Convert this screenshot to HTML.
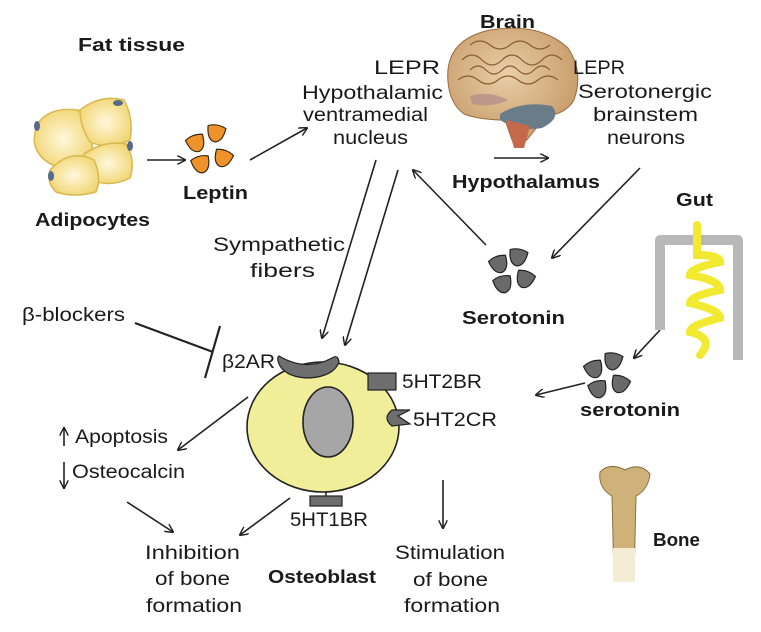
<!DOCTYPE html>
<html><head><meta charset="utf-8"><style>
html,body{margin:0;padding:0;background:#fff}
svg{display:block}
text{font-family:"Liberation Sans",sans-serif;fill:#1a1a1a}
.b{font-weight:bold;font-size:18px}
.n{font-size:19px}
</style></head><body>
<svg width="761" height="632" viewBox="0 0 761 632" xmlns="http://www.w3.org/2000/svg">
<defs>
<marker id="a" viewBox="0 0 10 10" refX="9" refY="5" markerWidth="9" markerHeight="9" orient="auto" markerUnits="userSpaceOnUse"><path d="M0,0 L10,5 L0,10" fill="none" stroke="#222" stroke-width="1.6"/></marker>
<radialGradient id="cell" cx="0.5" cy="0.5" r="0.6"><stop offset="0" stop-color="#fff8dc"/><stop offset="1" stop-color="#f0d36a"/></radialGradient>
<radialGradient id="br" cx="0.45" cy="0.4" r="0.6"><stop offset="0" stop-color="#e8cfa8"/><stop offset="1" stop-color="#c89a68"/></radialGradient>
<path id="tri" d="M-9,-6 Q0,-10 9,-6 Q8,8 0,9 Q-8,8 -9,-6Z"/>
</defs>
<g stroke="#222" stroke-width="1.6" fill="none">
<line x1="147" y1="160" x2="185" y2="160" marker-end="url(#a)"/>
<line x1="250" y1="160" x2="307" y2="128" marker-end="url(#a)"/>
<line x1="494" y1="158" x2="548" y2="158" marker-end="url(#a)"/>
<line x1="486" y1="245" x2="413" y2="170" marker-end="url(#a)"/>
<line x1="640" y1="168" x2="552" y2="258" marker-end="url(#a)"/>
<line x1="660" y1="330" x2="634" y2="358" marker-end="url(#a)"/>
<line x1="585" y1="383" x2="536" y2="395" marker-end="url(#a)"/>
<line x1="376" y1="160" x2="322" y2="338" marker-end="url(#a)"/>
<line x1="398" y1="170" x2="345" y2="345" marker-end="url(#a)"/>
<line x1="248" y1="397" x2="178" y2="450" marker-end="url(#a)"/>
<line x1="127" y1="502" x2="173" y2="532" marker-end="url(#a)"/>
<line x1="290" y1="498" x2="240" y2="535" marker-end="url(#a)"/>
<line x1="443" y1="480" x2="443" y2="528" marker-end="url(#a)"/>
<line x1="135" y1="323" x2="213" y2="352" stroke-width="2.2"/>
<line x1="220" y1="326" x2="205" y2="378" stroke-width="2.2"/>
<line x1="64" y1="428" x2="64" y2="446" marker-end="url(#a)" transform="rotate(180 64 437)"/>
<line x1="64" y1="462" x2="64" y2="488" marker-end="url(#a)"/>
</g>
<!-- adipocytes -->
<g fill="url(#cell)" stroke="#d8b850" stroke-width="1.5">
<path d="M36,126 Q48,106 78,110 Q94,122 92,150 Q82,170 60,168 Q36,160 34,140Z"/>
<path d="M80,110 Q100,94 124,100 Q134,118 130,140 Q108,150 90,142 Q80,126 80,110Z"/>
<path d="M84,154 Q104,140 126,144 Q136,160 130,178 Q110,188 92,180 Q82,168 84,154Z"/>
<path d="M50,170 Q70,148 94,160 Q102,178 96,192 Q74,198 56,192 Q46,182 50,170Z"/>
</g>
<g fill="#556a8c"><ellipse cx="37" cy="126" rx="3" ry="5"/><ellipse cx="118" cy="103" rx="5" ry="3"/><ellipse cx="130" cy="146" rx="3" ry="5"/><ellipse cx="51" cy="176" rx="3" ry="5"/></g>
<!-- leptin -->
<g fill="#f0922a" stroke="#3a2a10" stroke-width="1.2">
<use href="#tri" transform="translate(196,143) rotate(-20)"/>
<use href="#tri" transform="translate(216,133) rotate(10)"/>
<use href="#tri" transform="translate(201,164) rotate(-15)"/>
<use href="#tri" transform="translate(223,158) rotate(20)"/>
</g>
<!-- brain -->
<path d="M448,82 Q444,40 490,30 Q540,22 568,48 Q584,72 574,100 Q566,114 546,116 L530,136 Q520,150 512,140 L505,120 Q480,120 464,114 Q450,104 448,82Z" fill="url(#br)" stroke="#9a6a40" stroke-width="1"/>
<path d="M500,114 Q522,100 552,106 Q562,118 542,128 Q518,132 500,120Z" fill="#6a7c88"/>
<path d="M506,120 L514,148 L524,148 L530,126Z" fill="#c46a4a"/>
<path d="M470,96 Q490,90 508,100 Q492,108 472,104Z" fill="#b08a8a" opacity="0.7"/>
<g stroke="#8a5a30" fill="none" stroke-width="1.2"><path d="M462,60 q10,-10 20,0 t20,0 t20,0 t20,0 t20,0"/><path d="M458,80 q10,-8 20,0 t20,0 t20,0 t20,0 t20,0"/><path d="M470,45 q10,-8 20,0 t20,0 t20,0 t20,0"/><path d="M470,70 q8,-8 16,0 t16,0 t16,0 t16,0 t16,0"/></g>
<!-- serotonin -->
<g fill="#6a6a6a" stroke="#222" stroke-width="1.2">
<use href="#tri" transform="translate(499,264) rotate(-20)"/>
<use href="#tri" transform="translate(518,257) rotate(10)"/>
<use href="#tri" transform="translate(503,284) rotate(-15)"/>
<use href="#tri" transform="translate(525,279) rotate(20)"/>
<use href="#tri" transform="translate(594,369) rotate(-20)"/>
<use href="#tri" transform="translate(613,361) rotate(10)"/>
<use href="#tri" transform="translate(598,389) rotate(-15)"/>
<use href="#tri" transform="translate(620,384) rotate(20)"/>
</g>
<!-- gut -->
<path d="M660,330 V240 H738 V360" fill="none" stroke="#b8b8b8" stroke-width="10" stroke-linejoin="round"/>
<path d="M697,225 V255 Q720,255 720,262 Q690,268 690,275 Q720,280 720,290 Q690,296 690,303 Q720,310 720,318 Q690,325 690,332 Q715,338 700,355" fill="none" stroke="#f2ea30" stroke-width="8" stroke-linecap="round"/>
<!-- bone -->
<path d="M600,472 Q610,462 625,470 Q640,462 650,474 Q648,490 636,496 L634,580 L614,580 L612,496 Q598,488 600,472Z" fill="#cfb27a" stroke="#8a7040" stroke-width="1"/>
<rect x="613" y="548" width="22" height="34" fill="#f4ecd4"/>
<!-- cell -->
<ellipse cx="323" cy="427" rx="76" ry="65" fill="#f0ee98" stroke="#222" stroke-width="1.6"/>
<ellipse cx="328" cy="422" rx="25" ry="35" fill="#a6a6a6" stroke="#222" stroke-width="1.6"/>
<path d="M279,356 Q306,372 332,358 Q338,354 339,362 Q334,376 310,378 Q288,378 280,366 Q276,358 279,356Z" fill="#6e6e6e" stroke="#222" stroke-width="1.2"/>
<rect x="368" y="373" width="28" height="17" fill="#6e6e6e" stroke="#222" stroke-width="1.2"/>
<path d="M410,410 L398,416 L410,424 L392,426 Q382,418 392,410Z" fill="#6e6e6e" stroke="#222" stroke-width="1.2"/>
<rect x="310" y="496" width="32" height="10" fill="#6e6e6e" stroke="#222" stroke-width="1.2"/>
<line x1="326" y1="492" x2="326" y2="496" stroke="#222" stroke-width="1.5"/>
<!-- text -->
<text class="b" x="78" y="51" textLength="107" lengthAdjust="spacingAndGlyphs">Fat tissue</text>
<text class="b" x="480" y="28" textLength="55" lengthAdjust="spacingAndGlyphs">Brain</text>
<text class="b" x="183" y="199" textLength="65" lengthAdjust="spacingAndGlyphs">Leptin</text>
<text class="b" x="35" y="226" textLength="115" lengthAdjust="spacingAndGlyphs">Adipocytes</text>
<text class="n" x="374" y="74" textLength="66" lengthAdjust="spacingAndGlyphs">LEPR</text>
<text class="n" x="302" y="99" textLength="141" lengthAdjust="spacingAndGlyphs">Hypothalamic</text>
<text class="n" x="303" y="121" textLength="125" lengthAdjust="spacingAndGlyphs">ventramedial</text>
<text class="n" x="333" y="144" textLength="75" lengthAdjust="spacingAndGlyphs">nucleus</text>
<text class="n" x="573" y="74" textLength="52" lengthAdjust="spacingAndGlyphs">LEPR</text>
<text class="n" x="578" y="98" textLength="134" lengthAdjust="spacingAndGlyphs">Serotonergic</text>
<text class="n" x="593" y="121" textLength="105" lengthAdjust="spacingAndGlyphs">brainstem</text>
<text class="n" x="607" y="144" textLength="78" lengthAdjust="spacingAndGlyphs">neurons</text>
<text class="b" x="452" y="188" textLength="148" lengthAdjust="spacingAndGlyphs">Hypothalamus</text>
<text class="b" x="676" y="206" textLength="37" lengthAdjust="spacingAndGlyphs">Gut</text>
<text class="b" x="462" y="324" textLength="103" lengthAdjust="spacingAndGlyphs">Serotonin</text>
<text class="b" x="580" y="416" textLength="100" lengthAdjust="spacingAndGlyphs">serotonin</text>
<text class="n" x="213" y="251" textLength="132" lengthAdjust="spacingAndGlyphs">Sympathetic</text>
<text class="n" x="250" y="277" textLength="65" lengthAdjust="spacingAndGlyphs">fibers</text>
<text class="n" x="22" y="321" textLength="103" lengthAdjust="spacingAndGlyphs">β-blockers</text>
<text class="n" x="222" y="368" textLength="53" lengthAdjust="spacingAndGlyphs">β2AR</text>
<text class="n" x="402" y="388" textLength="80" lengthAdjust="spacingAndGlyphs">5HT2BR</text>
<text class="n" x="413" y="426" textLength="84" lengthAdjust="spacingAndGlyphs">5HT2CR</text>
<text class="n" x="290" y="526" textLength="78" lengthAdjust="spacingAndGlyphs">5HT1BR</text>
<text class="n" x="75" y="443" textLength="93" lengthAdjust="spacingAndGlyphs">Apoptosis</text>
<text class="n" x="72" y="478" textLength="113" lengthAdjust="spacingAndGlyphs">Osteocalcin</text>
<text class="n" x="145" y="559" textLength="95" lengthAdjust="spacingAndGlyphs">Inhibition</text>
<text class="n" x="155" y="585" textLength="75" lengthAdjust="spacingAndGlyphs">of bone</text>
<text class="n" x="146" y="612" textLength="96" lengthAdjust="spacingAndGlyphs">formation</text>
<text class="b" x="268" y="583" textLength="108" lengthAdjust="spacingAndGlyphs">Osteoblast</text>
<text class="n" x="395" y="559" textLength="110" lengthAdjust="spacingAndGlyphs">Stimulation</text>
<text class="n" x="413" y="586" textLength="75" lengthAdjust="spacingAndGlyphs">of bone</text>
<text class="n" x="404" y="612" textLength="96" lengthAdjust="spacingAndGlyphs">formation</text>
<text class="b" x="653" y="546" textLength="47" lengthAdjust="spacingAndGlyphs">Bone</text>
</svg>
</body></html>
